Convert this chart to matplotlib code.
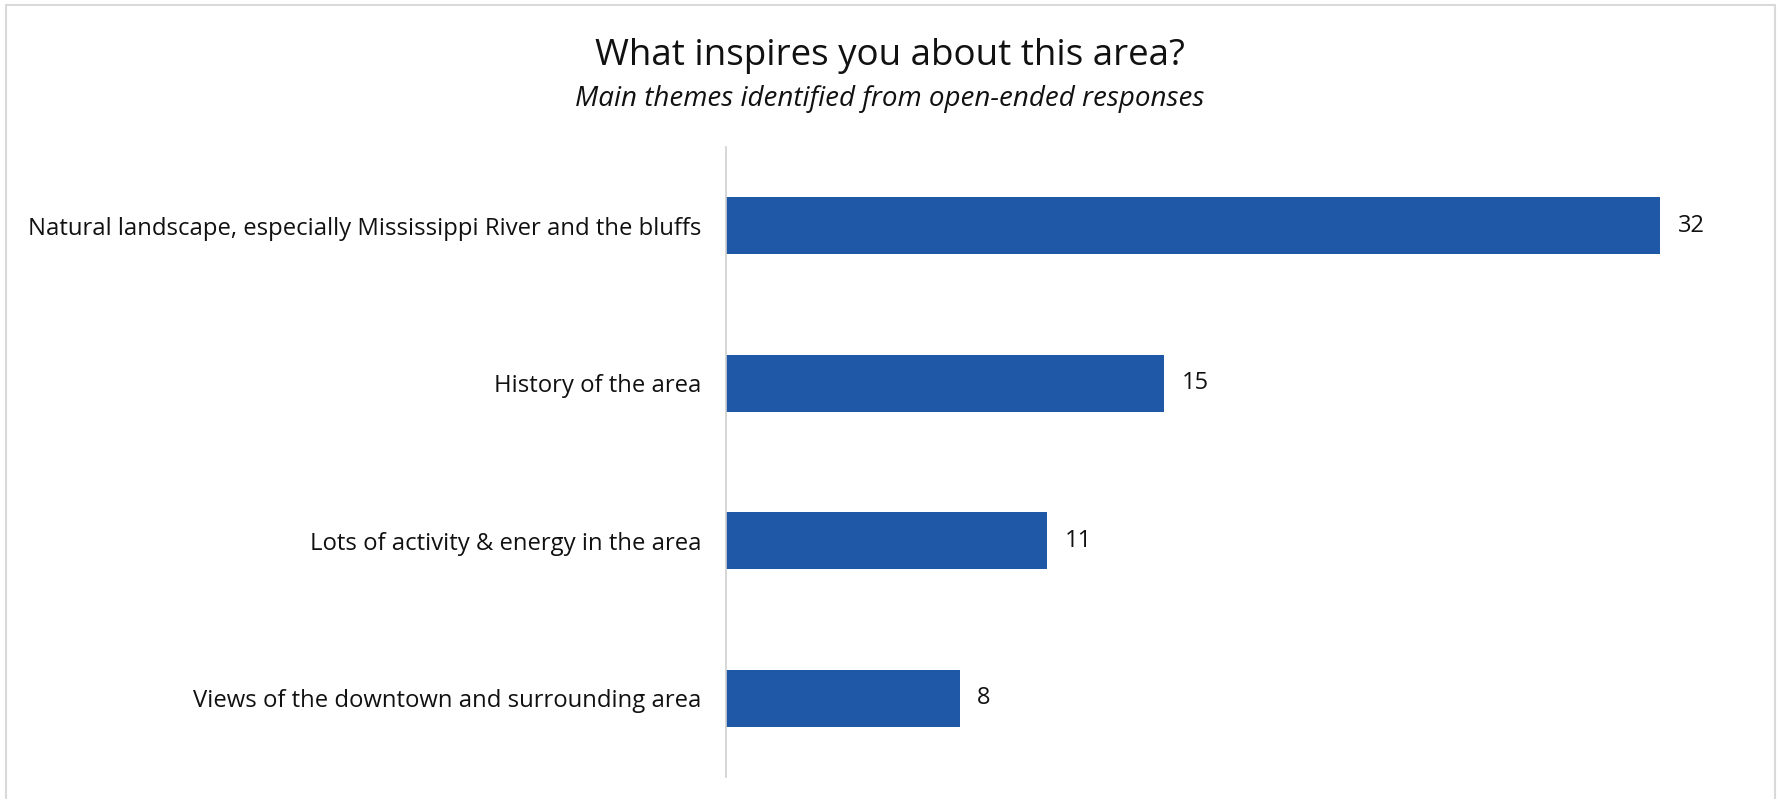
import matplotlib.pyplot as plt
from matplotlib.patches import Rectangle

plt.rcParams['font.family'] = ['Open Sans', 'DejaVu Sans']

themes = ['Natural landscape, especially Mississippi River and the bluffs',
          'History of the area',
          'Lots of activity & energy in the area',
          'Views of the downtown and surrounding area']
counts = [32, 15, 11, 8]

W, H = 1779, 799
fig = plt.figure(figsize=(W / 100, H / 100), dpi=100)

# light frame around the chart
fig.patches.append(Rectangle((6 / W, -0.01), (1775 - 6) / W, (H - 5) / H + 0.01,
                             transform=fig.transFigure, fill=False,
                             edgecolor='#d9d9d9', linewidth=1.5))

ax = fig.add_axes([726 / W, 22 / H, (1755 - 726) / W, (777 - 147) / H])
ypos = list(range(len(themes)))
ax.barh(ypos, counts, height=0.36, color='#1f58a6')
ax.set_ylim(len(themes) - 0.5, -0.5)
ax.set_xlim(0, (1755 - 726) / 29.2)

for y, v in zip(ypos, counts):
    ax.annotate(str(v), (v, y), xytext=(12.5, 0), textcoords='offset points',
                va='center', ha='left', fontsize=17, color='#111111')

ax.set_yticks(ypos)
ax.set_yticklabels(themes, fontsize=17.2, color='#111111')
ax.tick_params(axis='y', length=0, pad=18)
ax.set_xticks([])
for s in ['top', 'right', 'bottom']:
    ax.spines[s].set_visible(False)
ax.spines['left'].set_color('#d0d0d0')
ax.spines['left'].set_linewidth(1.2)

fig.text(0.5, 1 - 56 / H, 'What inspires you about this area?', ha='center', va='center',
         fontsize=26.5, color='#111111')
fig.text(0.5, 1 - 99 / H, 'Main themes identified from open-ended responses', ha='center',
         va='center', fontsize=20, style='italic', color='#111111')

fig.savefig('out.png', dpi=100)
